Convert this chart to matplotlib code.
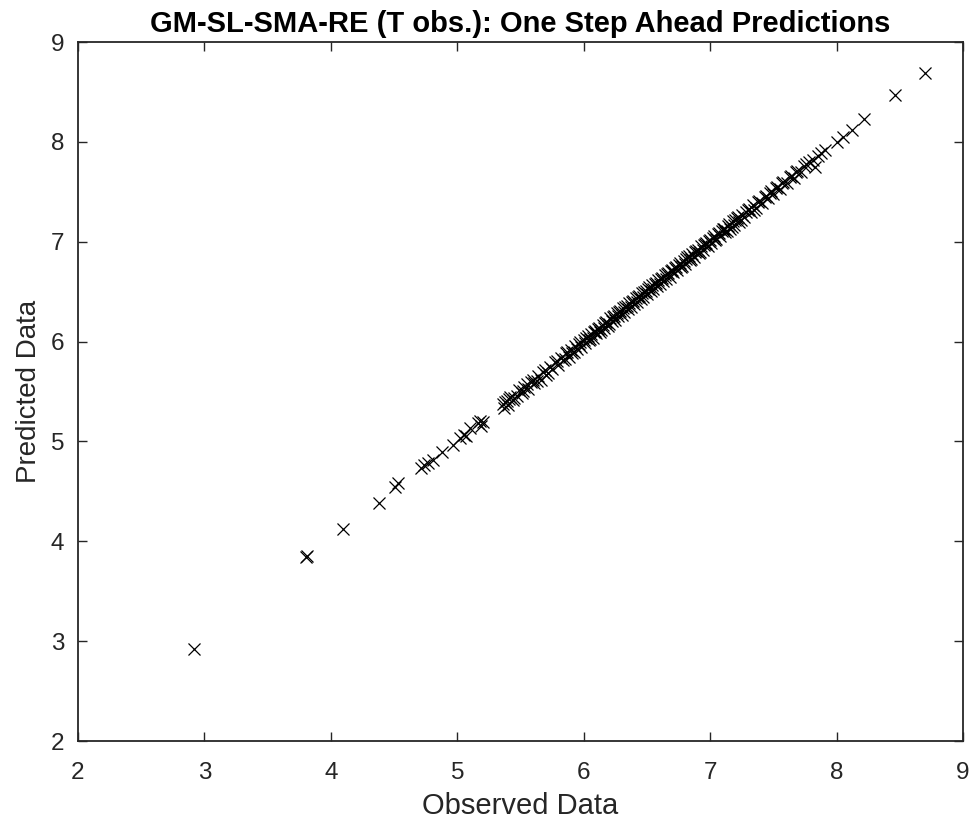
"""One step ahead predictions scatter: observed vs predicted (GM-SL-SMA-RE)."""
import matplotlib
matplotlib.use("Agg")
import matplotlib.pyplot as plt

# observed / predicted pairs
observed = [
    2.92, 3.80, 3.81, 4.10, 4.38, 4.51, 4.53, 4.71, 4.74, 4.77, 4.81, 4.88, 4.97,
    5.02, 5.05, 5.07, 5.10, 5.16, 5.18, 5.19, 5.20,
    5.36, 5.37, 5.39, 5.40, 5.42, 5.44, 5.47, 5.49, 5.51, 5.53, 5.56, 5.58, 5.61,
    5.64, 5.66, 5.68, 5.70, 5.73, 5.75, 5.77, 5.80, 5.82, 5.84, 5.86, 5.88, 5.90,
    5.91, 5.93, 5.95, 5.96, 5.98, 6.00, 6.01, 6.03, 6.04, 6.06, 6.07, 6.09, 6.10,
    6.12, 6.13, 6.15, 6.16, 6.18, 6.19, 6.21, 6.22, 6.24, 6.25, 6.26, 6.27, 6.29,
    6.30, 6.31, 6.32, 6.34, 6.35, 6.36, 6.37, 6.39, 6.40, 6.41, 6.42, 6.44, 6.45,
    6.46, 6.47, 6.49, 6.50, 6.52, 6.53, 6.54, 6.55, 6.57, 6.58, 6.59, 6.60, 6.62,
    6.63, 6.64, 6.65, 6.67, 6.68, 6.70, 6.71, 6.73, 6.74, 6.76, 6.77, 6.79, 6.80,
    6.82, 6.84, 6.86, 6.87, 6.89, 6.91, 6.93, 6.94, 6.96, 6.98, 7.00, 7.01, 7.03,
    7.05, 7.07, 7.08, 7.10, 7.12, 7.14, 7.16, 7.18, 7.19, 7.21, 7.23, 7.25, 7.27,
    7.30, 7.32, 7.34, 7.36, 7.39, 7.41, 7.44, 7.46, 7.48, 7.50, 7.53, 7.55, 7.58,
    7.61, 7.64, 7.66, 7.69, 7.72, 7.76, 7.78, 7.81, 7.83, 7.85, 7.88, 7.91,
    8.00, 8.05, 8.12, 8.22, 8.46, 8.70,
    5.38, 5.41, 5.45, 5.52, 5.55, 5.60, 5.63, 5.69, 5.72, 5.79, 5.85, 5.87, 5.92,
    5.97, 6.02, 6.05, 6.08, 6.11, 6.14, 6.17, 6.20, 6.23, 6.28, 6.33, 6.38, 6.43,
    6.48, 6.51, 6.56, 6.61, 6.66, 6.69, 6.72, 6.75, 6.78, 6.81, 6.83, 6.85, 6.88,
    6.90, 6.92, 6.95, 6.97, 6.99, 7.02, 7.04, 7.06, 7.09, 7.11, 7.13, 7.15, 7.17,
    7.20, 7.22, 7.24, 7.28, 7.31, 7.35, 7.38, 7.43, 7.47, 7.52, 7.57, 7.63, 7.68,
    7.74,
]
predicted = [
    2.92, 3.84, 3.85, 4.12, 4.38, 4.54, 4.58, 4.73, 4.76, 4.78, 4.81, 4.89, 4.96,
    5.03, 5.06, 5.05, 5.13, 5.18, 5.20, 5.15, 5.19,
    5.38, 5.34, 5.41, 5.37, 5.45, 5.42, 5.46, 5.52, 5.49, 5.55, 5.53, 5.60, 5.59,
    5.66, 5.62, 5.70, 5.67, 5.75, 5.73, 5.80, 5.77, 5.84, 5.82, 5.89, 5.85, 5.92,
    5.89, 5.96, 5.93, 5.98, 5.95, 6.02, 5.99, 6.06, 6.02, 6.08, 6.04, 6.11, 6.09,
    6.14, 6.10, 6.17, 6.14, 6.20, 6.16, 6.24, 6.21, 6.26, 6.22, 6.29, 6.26, 6.31,
    6.27, 6.34, 6.30, 6.36, 6.33, 6.39, 6.35, 6.41, 6.38, 6.44, 6.40, 6.46, 6.43,
    6.49, 6.45, 6.51, 6.48, 6.55, 6.51, 6.57, 6.53, 6.59, 6.56, 6.62, 6.58, 6.64,
    6.61, 6.67, 6.63, 6.69, 6.65, 6.72, 6.70, 6.75, 6.72, 6.79, 6.75, 6.81, 6.78,
    6.85, 6.82, 6.88, 6.85, 6.91, 6.89, 6.96, 6.92, 6.98, 6.96, 7.02, 6.99, 7.06,
    7.03, 7.09, 7.06, 7.13, 7.10, 7.16, 7.13, 7.21, 7.17, 7.24, 7.20, 7.27, 7.25,
    7.32, 7.30, 7.37, 7.34, 7.41, 7.39, 7.46, 7.44, 7.51, 7.48, 7.55, 7.53, 7.60,
    7.59, 7.66, 7.64, 7.71, 7.70, 7.78, 7.80, 7.82, 7.75, 7.86, 7.89, 7.92,
    8.00, 8.05, 8.12, 8.23, 8.47, 8.69,
    5.40, 5.43, 5.44, 5.51, 5.58, 5.62, 5.61, 5.72, 5.69, 5.81, 5.83, 5.90, 5.90,
    6.00, 6.04, 6.03, 6.10, 6.13, 6.12, 6.19, 6.18, 6.25, 6.30, 6.35, 6.40, 6.45,
    6.50, 6.53, 6.58, 6.63, 6.68, 6.71, 6.74, 6.77, 6.76, 6.83, 6.86, 6.83, 6.90,
    6.92, 6.90, 6.97, 6.99, 7.01, 7.04, 7.02, 7.08, 7.11, 7.13, 7.11, 7.18, 7.15,
    7.22, 7.25, 7.22, 7.30, 7.33, 7.32, 7.40, 7.45, 7.49, 7.54, 7.59, 7.65, 7.70,
    7.76,
]

plt.rcParams["font.family"] = ["Liberation Sans", "DejaVu Sans"]
fig = plt.figure(figsize=(9.71, 8.26), dpi=100)
ax = fig.add_axes([0.0803, 0.1029, 0.9115, 0.8462])
ax.plot(observed, predicted, ls="none", marker="x", color="black",
        markersize=9, markeredgewidth=0.9)

ax.set_xlim(2, 9); ax.set_ylim(2, 9)
ax.set_xticks(range(2, 10)); ax.set_yticks(range(2, 10))
ax.tick_params(direction="in", length=6.5, width=1.0, labelsize=17.5,
               top=True, right=True, colors="#262626")
ax.tick_params(axis="x", pad=15)
ax.tick_params(axis="y", pad=10)
for s in ax.spines.values():
    s.set_linewidth(1.3); s.set_color("#262626")
ax.set_xlabel("Observed Data", fontsize=21, color="#262626", labelpad=6)
ax.set_ylabel("Predicted Data", fontsize=20, color="#262626", labelpad=6)
ax.set_title("GM-SL-SMA-RE (T obs.): One Step Ahead Predictions",
             fontsize=21, fontweight="bold", pad=7)
fig.savefig("out.png", dpi=100)
